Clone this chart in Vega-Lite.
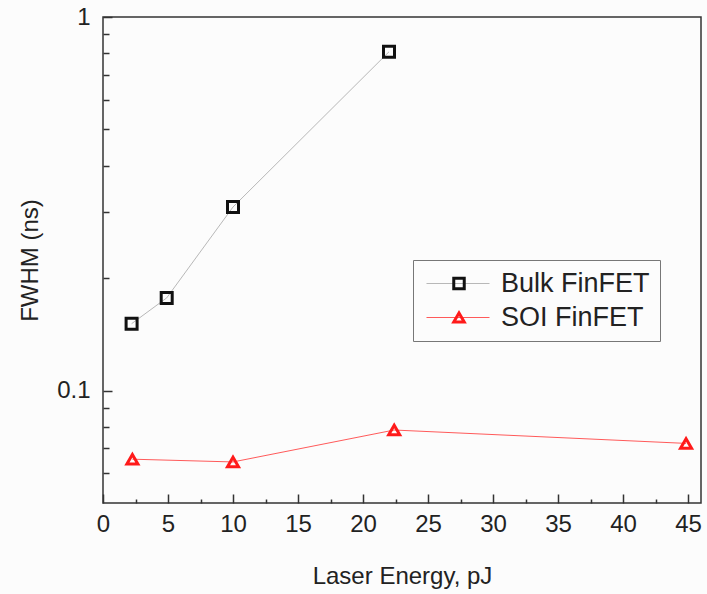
{
  "$schema": "https://vega.github.io/schema/vega-lite/v6.json",
  "width": 598,
  "height": 486,
  "autosize": {"type": "none"},
  "padding": {"left": 103, "top": 17, "right": 6, "bottom": 91},
  "background": "#fcfcfc",
  "config": {
    "view": {"stroke": "#333333", "strokeWidth": 1.5},
    "font": "Liberation Sans",
    "axis": {"grid": false, "domain": false, "ticks": true, "tickOpacity": 1, "tickColor": "#333333", "tickWidth": 1.5, "labelFont": "Liberation Sans", "labelFontSize": 24, "labelColor": "#222222", "titleFont": "Liberation Sans", "titleFontSize": 24, "titleFontWeight": "normal", "titleColor": "#222222"}
  },
  "data": {"values": [
    {"series": "Bulk FinFET", "energy": 2.2, "fwhm": 0.151},
    {"series": "Bulk FinFET", "energy": 4.9, "fwhm": 0.177},
    {"series": "Bulk FinFET", "energy": 10.0, "fwhm": 0.310},
    {"series": "Bulk FinFET", "energy": 22.0, "fwhm": 0.807},
    {"series": "SOI FinFET", "energy": 2.26, "fwhm": 0.0655},
    {"series": "SOI FinFET", "energy": 10.0, "fwhm": 0.0644},
    {"series": "SOI FinFET", "energy": 22.4, "fwhm": 0.0784},
    {"series": "SOI FinFET", "energy": 44.85, "fwhm": 0.0722}
  ]},
  "layer": [
    {
      "mark": {"type": "line", "strokeWidth": 1},
      "encoding": {
        "x": {"field": "energy", "type": "quantitative",
          "scale": {"domain": [0, 46], "nice": false, "zero": false},
          "axis": {"title": "Laser Energy, pJ", "orient": "bottom", "offset": -9, "ticks": true, "zindex": 2,
            "values": [0, 5, 10, 15, 20, 25, 30, 35, 40, 45],
            "tickSize": 9,
            "labelPadding": 9, "labelFlush": false, "labelOverlap": false,
            "titleY": 82, "titleBaseline": "middle"}},
        "y": {"field": "fwhm", "type": "quantitative",
          "scale": {"type": "log", "domain": [0.05, 1], "nice": false},
          "axis": {"title": "FWHM (ns)", "orient": "left", "offset": -9, "ticks": true, "zindex": 2,
            "values": [0.1, 1],
            "labelExpr": "datum.value == 1 ? '1' : '0.1'",
            "tickSize": 9,
            "labelPadding": 13, "labelFlush": false, "labelOverlap": false, "labelBaseline": "middle",
            "titleX": -82, "titleY": 243, "titleAngle": -90, "titleAlign": "center", "titleBaseline": "middle"}},
        "stroke": {"field": "series", "type": "nominal",
          "scale": {"domain": ["Bulk FinFET", "SOI FinFET"], "range": ["#b8b8b8", "#ff5a5a"]},
          "legend": {"title": null, "orient": "none", "legendX": 310, "legendY": 243,
            "padding": 10, "strokeColor": "#777777", "fillColor": "#fcfcfc",
            "symbolType": "M-1.667,0H8.833", "symbolSize": 144, "symbolStrokeWidth": 1,
            "labelFont": "Liberation Sans", "labelFontSize": 27, "labelColor": "#222222",
            "labelOffset": 51, "rowPadding": 6, "labelLimit": 300}}
      }
    },
    {
      "mark": {"type": "point", "filled": false, "strokeWidth": 3, "size": 121, "opacity": 1},
      "encoding": {
        "x": {"field": "energy", "type": "quantitative",
          "scale": {"domain": [0, 46], "nice": false, "zero": false},
          "axis": {"title": null, "orient": "bottom", "labels": false, "offset": -4, "ticks": true, "zindex": 2,
            "values": [2.5, 7.5, 12.5, 17.5, 22.5, 27.5, 32.5, 37.5, 42.5],
            "tickSize": 4}},
        "y": {"field": "fwhm", "type": "quantitative",
          "scale": {"type": "log", "domain": [0.05, 1], "nice": false},
          "axis": {"title": null, "orient": "left", "labels": false, "offset": -6, "ticks": true, "zindex": 2,
            "values": [0.06, 0.07, 0.08, 0.09, 0.2, 0.3, 0.4, 0.5, 0.6, 0.7, 0.8, 0.9],
            "tickSize": 6}},
        "stroke": {"field": "series", "type": "nominal",
          "scale": {"domain": ["Bulk FinFET", "SOI FinFET"], "range": ["#111111", "#ff1a1a"]},
          "legend": {"title": null, "orient": "none", "legendX": 332.5, "legendY": 243,
            "padding": 10, "labelExpr": "' '", "labelFontSize": 27, "rowPadding": 6,
            "labelOffset": 51,
            "symbolStrokeWidth": 3, "symbolSize": 110, "symbolFillColor": "#fcfcfc"}},
        "shape": {"field": "series", "type": "nominal",
          "scale": {"domain": ["Bulk FinFET", "SOI FinFET"], "range": ["square", "triangle-up"]},
          "legend": {"title": null, "orient": "none", "legendX": 332.5, "legendY": 243,
            "padding": 10, "labelExpr": "' '", "labelFontSize": 27, "rowPadding": 6,
            "labelOffset": 51,
            "symbolStrokeWidth": 3, "symbolSize": 110, "symbolFillColor": "#fcfcfc"}}
      }
    }
  ],
  "resolve": {"scale": {"stroke": "independent", "shape": "independent"}, "axis": {"x": "independent", "y": "independent"}}
}
